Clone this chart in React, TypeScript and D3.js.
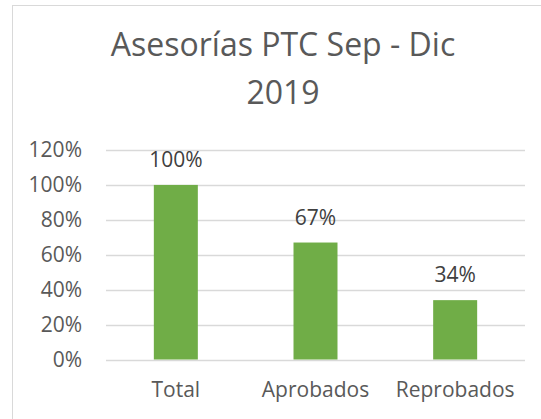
import React, { useEffect, useRef } from 'react';
import * as d3 from 'd3';

const title = ['Asesorías PTC Sep - Dic', '2019'];
const categories = ['Total', 'Aprobados', 'Reprobados'];
const values = [1.0, 0.67, 0.34];
const yTicks = [0, 0.2, 0.4, 0.6, 0.8, 1.0, 1.2];

const App = () => {
  const chartRef = useRef<SVGSVGElement>(null);

  useEffect(() => {
    const width = 541;
    const height = 419;
    const font = '"Open Sans", sans-serif';
    const textColor = '#595959';

    const svg = d3.select(chartRef.current);
    svg.selectAll('*').remove();

    // chart frame (only left and top edges are visible)
    svg.append('rect')
      .attr('x', 12.5)
      .attr('y', 5.5)
      .attr('width', width)
      .attr('height', height)
      .attr('fill', '#fff')
      .attr('stroke', '#d9d9d9');

    // title
    svg.append('g')
      .selectAll('text')
      .data(title)
      .enter()
      .append('text')
      .attr('x', 283)
      .attr('y', (d, i) => 56 + i * 48)
      .attr('text-anchor', 'middle')
      .attr('font-family', font)
      .attr('font-size', 32)
      .attr('fill', textColor)
      .text(d => d);

    const x = d3.scaleBand().domain(categories).range([106, 525]).padding(0);
    const y = d3.scaleLinear().domain([0, 1.2]).range([359.5, 150]);
    const barW = x.bandwidth() * 0.315;
    const pct = d3.format('.0%');

    // gridlines
    svg.append('g')
      .selectAll('line')
      .data(yTicks)
      .enter()
      .append('line')
      .attr('x1', 106)
      .attr('x2', 525)
      .attr('y1', d => Math.round(y(d)) + 0.5)
      .attr('y2', d => Math.round(y(d)) + 0.5)
      .attr('stroke', '#d9d9d9')
      .attr('stroke-width', 1.5);

    // y tick labels
    svg.append('g')
      .selectAll('text')
      .data(yTicks)
      .enter()
      .append('text')
      .attr('x', 82)
      .attr('y', d => y(d) + 7)
      .attr('text-anchor', 'end')
      .attr('font-family', font)
      .attr('font-size', 21)
      .attr('fill', textColor)
      .text(d => pct(d));

    // bars
    svg.append('g')
      .selectAll('rect')
      .data(values)
      .enter()
      .append('rect')
      .attr('x', (d, i) => x(categories[i])! + (x.bandwidth() - barW) / 2)
      .attr('y', d => y(d))
      .attr('width', barW)
      .attr('height', d => y(0) - y(d))
      .attr('fill', '#70ad47');

    // value labels
    svg.append('g')
      .selectAll('text')
      .data(values)
      .enter()
      .append('text')
      .attr('x', (d, i) => x(categories[i])! + x.bandwidth() / 2)
      .attr('y', d => y(d) - 18)
      .attr('text-anchor', 'middle')
      .attr('font-family', font)
      .attr('font-size', 21)
      .attr('fill', '#404040')
      .text(d => pct(d));

    // category labels
    svg.append('g')
      .selectAll('text')
      .data(categories)
      .enter()
      .append('text')
      .attr('x', d => x(d)! + x.bandwidth() / 2)
      .attr('y', 397)
      .attr('text-anchor', 'middle')
      .attr('font-family', font)
      .attr('font-size', 21)
      .attr('fill', textColor)
      .text(d => d);
  }, []);

  return (
    <svg
      ref={chartRef}
      width={541}
      height={419}
      style={{ position: 'absolute', left: 0, top: 0 }}
    />
  );
};

export default App;
